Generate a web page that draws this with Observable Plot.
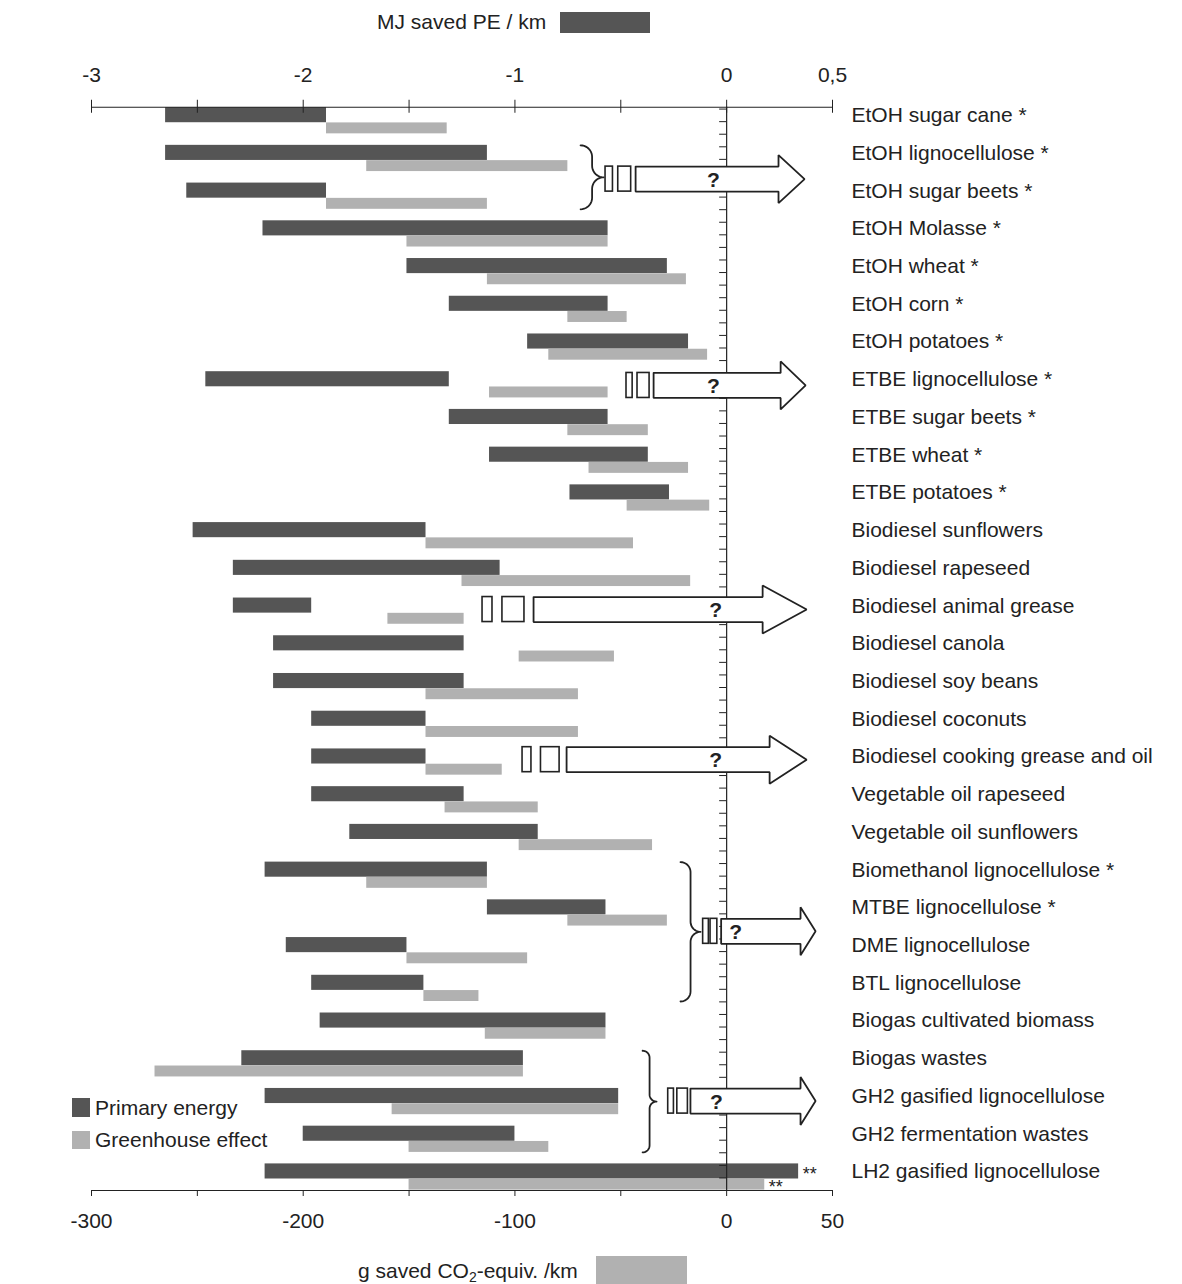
<!DOCTYPE html>
<html>
<head>
<meta charset="utf-8">
<script src="https://cdn.jsdelivr.net/npm/d3@7"></script>
<script src="https://cdn.jsdelivr.net/npm/@observablehq/plot@0.6"></script>
<style>
  html, body { margin: 0; padding: 0; background: #fff; }
  #page { position: relative; width: 1182px; height: 1284px; overflow: hidden;
          font-family: "Liberation Sans", Arial, sans-serif; color: #222; }
  #chart { position: absolute; left: 0; top: 46px; }
  .txt { position: absolute; font-size: 21px; line-height: 24px; white-space: nowrap; }
  .txt sub { font-size: 14px; line-height: 0; vertical-align: -4px; }
  .sw { position: absolute; }
</style>
</head>
<body>
<div id="page"><div id="chart"></div></div>
<script>
// Fuel pathways, top to bottom
const categories = [
  "EtOH sugar cane *", "EtOH lignocellulose *", "EtOH sugar beets *", "EtOH Molasse *",
  "EtOH wheat *", "EtOH corn *", "EtOH potatoes *",
  "ETBE lignocellulose *", "ETBE sugar beets *", "ETBE wheat *", "ETBE potatoes *",
  "Biodiesel sunflowers", "Biodiesel rapeseed", "Biodiesel animal grease", "Biodiesel canola",
  "Biodiesel soy beans", "Biodiesel coconuts", "Biodiesel cooking grease and oil",
  "Vegetable oil rapeseed", "Vegetable oil sunflowers",
  "Biomethanol lignocellulose *", "MTBE lignocellulose *", "DME lignocellulose", "BTL lignocellulose",
  "Biogas cultivated biomass", "Biogas wastes",
  "GH2 gasified lignocellulose", "GH2 fermentation wastes", "LH2 gasified lignocellulose"
];

// Primary energy saved, MJ / km (range of study results)
const primaryLo = [-2.65, -2.65, -2.55, -2.19, -1.51, -1.31, -0.94, -2.46, -1.31, -1.12, -0.74,
  -2.52, -2.33, -2.33, -2.14, -2.14, -1.96, -1.96, -1.96, -1.78,
  -2.18, -1.13, -2.08, -1.96, -1.92, -2.29, -2.18, -2.00, -2.18];
const primaryHi = [-1.89, -1.13, -1.89, -0.56, -0.28, -0.56, -0.18, -1.31, -0.56, -0.37, -0.27,
  -1.42, -1.07, -1.96, -1.24, -1.24, -1.42, -1.42, -1.24, -0.89,
  -1.13, -0.57, -1.51, -1.43, -0.57, -0.96, -0.51, -1.00, 0.34];

// Greenhouse gases saved, g CO2-equiv. / km
const ghgLo = [-189, -170, -189, -151, -113, -75, -84, -112, -75, -65, -47,
  -142, -125, -160, -98, -142, -142, -142, -133, -98,
  -170, -75, -151, -143, -114, -270, -158, -150, -150];
const ghgHi = [-132, -75, -113, -56, -19, -47, -9, -56, -37, -18, -8,
  -44, -17, -124, -53, -70, -70, -106, -89, -35,
  -113, -28, -94, -117, -57, -96, -51, -84, 18];

// Pathways whose bars carry the "**" note
const doubleStar = ["LH2 gasified lignocellulose"];

// Axis ticks
const topTicks = [-3, -2, -1, 0, 0.5];            // MJ saved PE / km
const bottomTicks = [-300, -200, -100, 0, 50];     // g saved CO2-equiv. / km

// "Further impacts unknown" arrows: centre row, body start, head base, tip (MJ units),
// the two small boxes before each arrow and the "?" position
const arrowRow = [2.19, 7.66, 13.6, 17.58, 22.13, 26.63];
const arrowStart = [-0.430, -0.345, -0.912, -0.756, -0.026, -0.171];
const arrowHead = [0.245, 0.255, 0.170, 0.203, 0.349, 0.349];
const arrowTip = [0.368, 0.373, 0.378, 0.378, 0.420, 0.420];
const boxA = [[-0.572, -0.537], [-0.473, -0.444], [-1.153, -1.106], [-0.964, -0.922], [-0.111, -0.084], [-0.276, -0.249]];
const boxB = [[-0.512, -0.451], [-0.421, -0.364], [-1.059, -0.955], [-0.877, -0.789], [-0.076, -0.044], [-0.233, -0.183]];
const questionX = [-0.062, -0.062, -0.052, -0.052, 0.042, -0.048];

// Curly braces grouping pathways that share one arrow
const braces = [
  {from: "EtOH lignocellulose *", to: "EtOH sugar beets *", x0: -0.690, x1: -0.581},
  {from: "Biomethanol lignocellulose *", to: "BTL lignocellulose", x0: -0.218, x1: -0.123},
  {from: "Biogas wastes", to: "GH2 fermentation wastes", x0: -0.397, x1: -0.331}
];

// ---- layout & style ----
const W = 1182, SVG_H = 1200;
const M = {top: 50, right: 350, bottom: 56, left: 91};
const X_DOMAIN = [-3, 0.5];
const G_PER_MJ = 100;               // bottom axis: 100 g spans the same width as 1 MJ on top
const N = categories.length;
const X_PX = (W - M.left - M.right) / (X_DOMAIN[1] - X_DOMAIN[0]);
const ROW_PX = (SVG_H - M.top - M.bottom) / N;
const px2x = p => p / X_PX;
const px2y = p => p / ROW_PX;

const DARK = [0.295, 0.695], LIGHT = [0.70, 0.99];   // bar slots inside each row
const AXIS_TOP = 0.285, AXIS_BOTTOM = N;
const INK = "#222";
const DARK_FILL = "#555555", LIGHT_FILL = "#b1b1b1";
const FONT = "'Liberation Sans', Arial, sans-serif";

const rows = categories.map((name, i) => ({
  name, i,
  pLo: primaryLo[i], pHi: primaryHi[i],
  gLo: ghgLo[i] / G_PER_MJ, gHi: ghgHi[i] / G_PER_MJ
}));
const rowIndex = new Map(categories.map((c, i) => [c, i]));

// arrow outlines
const BODY = px2y(12.5), HEAD = px2y(24);
const arrowPts = arrowRow.flatMap((yc, k) => [
  [arrowStart[k], yc - BODY], [arrowHead[k], yc - BODY], [arrowHead[k], yc - HEAD],
  [arrowTip[k], yc], [arrowHead[k], yc + HEAD], [arrowHead[k], yc + BODY],
  [arrowStart[k], yc + BODY], [arrowStart[k], yc - BODY]
].map(([x, y]) => ({k, x, y})));
const boxes = arrowRow.flatMap((yc, k) => [boxA[k], boxB[k]].map(([x1, x2]) => ({x1, x2, y1: yc - BODY, y2: yc + BODY})));

// brace outline: two hooks on the left, pointed cusp on the right
function bracePoints(b, id) {
  const y1 = rowIndex.get(b.from) + DARK[0], y2 = rowIndex.get(b.to) + LIGHT[1];
  const r = (b.x1 - b.x0) * X_PX / 2;
  const H = (y2 - y1) * ROW_PX, Mid = H / 2;
  const pts = [];
  const arc = (cx, cy, a0, a1) => {
    for (let s = 0; s <= 10; s++) {
      const a = a0 + (a1 - a0) * s / 10;
      pts.push({id, x: b.x0 + px2x(cx + r * Math.cos(a)), y: y1 + px2y(cy + r * Math.sin(a))});
    }
  };
  arc(0, r, -Math.PI / 2, 0);
  arc(2 * r, Mid - r, Math.PI, Math.PI / 2);
  arc(2 * r, Mid + r, -Math.PI / 2, -Math.PI);
  arc(0, H - r, 0, Math.PI / 2);
  return pts;
}
const bracePts = braces.flatMap((b, id) => bracePoints(b, id));

const fmtTop = d => String(d).replace(".", ",");
const starred = rows.filter(d => doubleStar.includes(d.name));

const chart = Plot.plot({
  width: W, height: SVG_H,
  marginTop: M.top, marginRight: M.right, marginBottom: M.bottom, marginLeft: M.left,
  style: {fontFamily: FONT, background: "transparent", color: INK},
  x: {domain: X_DOMAIN, axis: null},
  y: {domain: [0, N], reverse: true, axis: null},
  marks: [
    // bars
    Plot.rect(rows, {x1: "pLo", x2: "pHi", y1: d => d.i + DARK[0], y2: d => d.i + DARK[1], fill: DARK_FILL}),
    Plot.rect(rows, {x1: "gLo", x2: "gHi", y1: d => d.i + LIGHT[0], y2: d => d.i + LIGHT[1], fill: LIGHT_FILL}),

    // top axis: MJ saved PE / km
    Plot.ruleY([AXIS_TOP], {x1: X_DOMAIN[0], x2: X_DOMAIN[1], stroke: INK, strokeWidth: 1.2}),
    Plot.ruleX(d3.range(X_DOMAIN[0], X_DOMAIN[1] + 0.01, 0.5), {y1: AXIS_TOP - px2y(7), y2: AXIS_TOP + px2y(6), stroke: INK}),
    Plot.text(topTicks, {x: d => d, y: AXIS_TOP, dy: -32, text: fmtTop, fontSize: 21, fill: INK}),

    // bottom axis: g saved CO2-equiv. / km
    Plot.ruleY([AXIS_BOTTOM], {x1: X_DOMAIN[0], x2: X_DOMAIN[1], stroke: INK, strokeWidth: 1.2}),
    Plot.ruleX(d3.range(-300, 51, 50), {x: d => d / G_PER_MJ, y1: AXIS_BOTTOM, y2: AXIS_BOTTOM + px2y(6), stroke: INK}),
    Plot.text(bottomTicks, {x: d => d / G_PER_MJ, y: AXIS_BOTTOM, dy: 31, text: d => String(d), fontSize: 21, fill: INK}),

    // zero line with minor ticks
    Plot.ruleX([0], {y1: AXIS_TOP, y2: AXIS_BOTTOM, stroke: INK, strokeWidth: 1.2}),
    Plot.ruleY(d3.range(1, 3 * N + 1).map(k => k / 3), {x1: -px2x(7), x2: 0, stroke: INK}),

    // arrows, boxes, braces
    Plot.line(arrowPts, {x: "x", y: "y", z: "k", fill: "white", stroke: INK, strokeWidth: 1.8, strokeLinejoin: "miter"}),
    Plot.rect(boxes, {x1: "x1", x2: "x2", y1: "y1", y2: "y2", fill: "white", stroke: INK, strokeWidth: 1.6}),
    Plot.line(bracePts, {x: "x", y: "y", z: "id", stroke: INK, strokeWidth: 1.8}),
    Plot.text(arrowRow.map((y, k) => ({x: questionX[k], y})), {x: "x", y: "y", text: () => "?", fontSize: 21, fontWeight: "bold", fill: INK, dy: 1}),

    // pathway labels
    Plot.text(rows, {y: d => d.i + 0.5, frameAnchor: "right", dx: 19, text: "name", textAnchor: "start", fontSize: 21, fill: INK}),

    // "**" notes at the bar ends
    Plot.text(starred, {x: "pHi", y: d => d.i + (DARK[0] + DARK[1]) / 2, dx: 4, dy: 3, text: () => "**", textAnchor: "start", fontSize: 18, fill: INK}),
    Plot.text(starred, {x: "gHi", y: d => d.i + (LIGHT[0] + LIGHT[1]) / 2, dx: 4, dy: 3, text: () => "**", textAnchor: "start", fontSize: 18, fill: INK})
  ]
});
document.getElementById("chart").appendChild(chart);

// axis titles (above and below the chart) and the legend
const page = document.getElementById("page");
function addText(html, left, top) {
  const el = document.createElement("div");
  el.className = "txt"; el.innerHTML = html;
  el.style.left = left + "px"; el.style.top = top + "px";
  page.appendChild(el);
}
function addSwatch(color, left, top, w, h) {
  const el = document.createElement("div");
  el.className = "sw"; el.style.background = color;
  Object.assign(el.style, {left: left + "px", top: top + "px", width: w + "px", height: h + "px"});
  page.appendChild(el);
}
addText("MJ saved PE / km", 377, 10);
addSwatch(DARK_FILL, 560, 12, 90, 21);
addText("g saved CO<sub>2</sub>-equiv. /km", 358, 1259);
addSwatch(LIGHT_FILL, 596, 1256, 91, 28);
addSwatch(DARK_FILL, 72, 1098, 18, 19);
addText("Primary energy", 95, 1096);
addSwatch(LIGHT_FILL, 72, 1131, 18, 18);
addText("Greenhouse effect", 95, 1128);
</script>
</body>
</html>
